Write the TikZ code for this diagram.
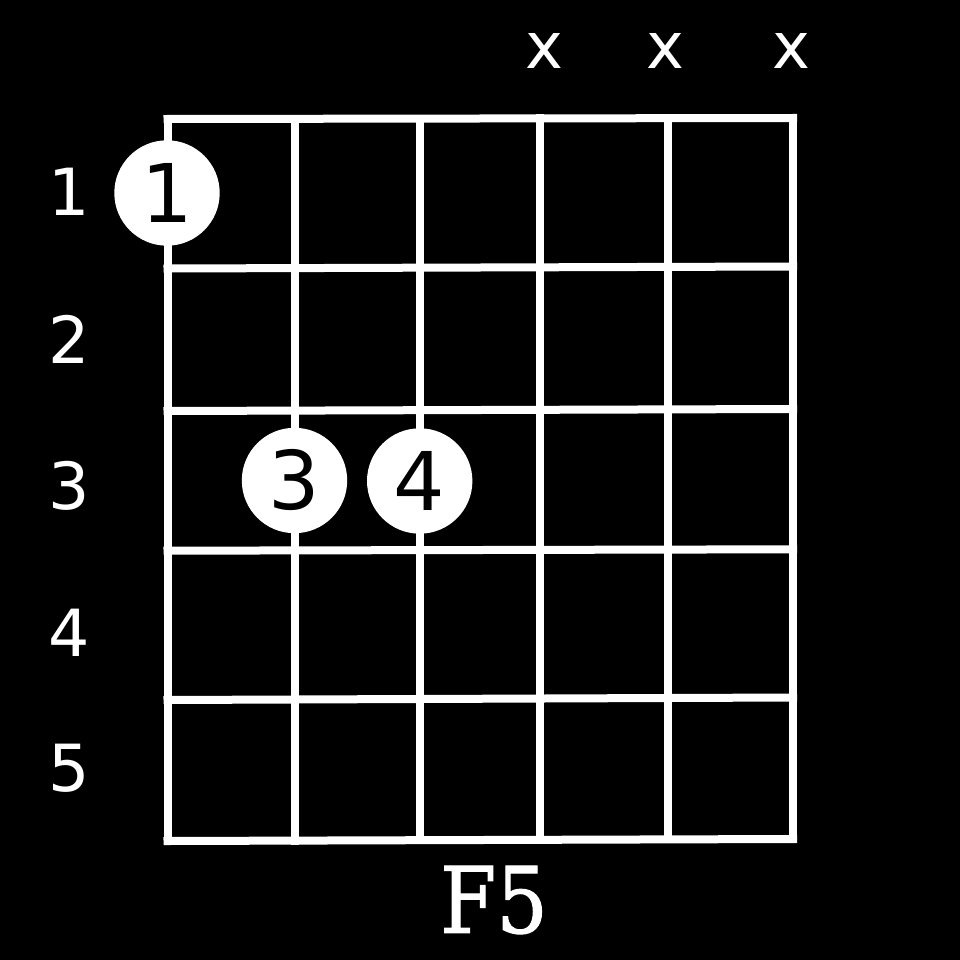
\documentclass[tikz,border=0pt]{standalone}
\usepackage{fontspec}
\setmainfont{DejaVu Sans}
\newfontfamily\chordfont[FakeBold=1.2]{DejaVu Serif}
\begin{document}
\begin{tikzpicture}[x=1pt,y=-1pt,
  gridline/.style={white,line width=8pt,line cap=rect},
  finger/.style={circle,fill=white,text=black,minimum size=105.4pt,inner sep=0pt,font=\fontsize{81}{81}\selectfont},
  fretnum/.style={text=white,inner sep=0pt,font=\fontsize{65}{65}\selectfont},
  mute/.style={text=white,inner sep=0pt,font=\fontsize{64}{64}\selectfont},
  chordname/.style={text=white,inner sep=0pt,font=\chordfont\fontsize{92}{92}\selectfont}]
\fill[black] (0,0) rectangle (960,960);
\useasboundingbox (0,0) rectangle (960,960);
% horizontal (fret) lines
\coordinate (h1L) at (167.5,119);   \coordinate (h1R) at (793,118);
\coordinate (h2L) at (167.5,268.5); \coordinate (h2R) at (793,266.5);
\coordinate (h3L) at (167.5,411);   \coordinate (h3R) at (793,409);
\coordinate (h4L) at (167.5,550.7); \coordinate (h4R) at (793,549.3);
\coordinate (h5L) at (167.5,700);   \coordinate (h5R) at (793,697.5);
\coordinate (h6L) at (167.5,841);   \coordinate (h6R) at (793,839);
% vertical (string) lines
\coordinate (v1T) at (167.5,119); \coordinate (v1B) at (167.5,841);
\coordinate (v2T) at (295,118.8); \coordinate (v2B) at (295,840.6);
\coordinate (v3T) at (420,118.6); \coordinate (v3B) at (420,840.2);
\coordinate (v4T) at (540,118.4); \coordinate (v4B) at (540,839.8);
\coordinate (v5T) at (668,118.2); \coordinate (v5B) at (668,839.4);
\coordinate (v6T) at (793,118);   \coordinate (v6B) at (793,839);
\foreach \i in {1,...,6} {
  \draw[gridline] (h\i L) -- (h\i R);
  \draw[gridline] (v\i T) -- (v\i B);
}
% finger dots
\node[finger] (f1) at (167,193) {1};
\node[finger] (f3) at (294.5,480.5) {3};
\node[finger] (f4) at (419.7,481) {4};
% fret numbers
\node[fretnum] (n1) at (69,192) {1};
\node[fretnum] (n2) at (69,339.5) {2};
\node[fretnum] (n3) at (69,486) {3};
\node[fretnum] (n4) at (69,633) {4};
\node[fretnum] (n5) at (69,768) {5};
% muted strings
\node[mute] (m4) at (544.5,51.3) {x};
\node[mute] (m5) at (665,51.3) {x};
\node[mute] (m6) at (791,51.3) {x};
% chord name
\node[chordname] (name) at (494,900) {\scalebox{0.88}[1]{F5}};
\end{tikzpicture}
\end{document}
